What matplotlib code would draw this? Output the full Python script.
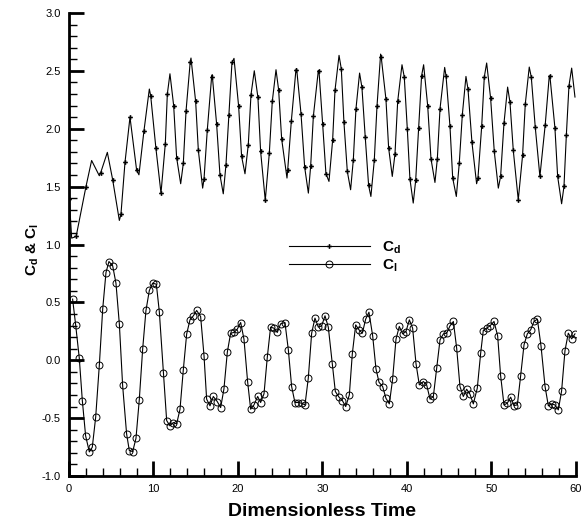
import matplotlib as mpl
mpl.use('Agg')
from matplotlib import pyplot as plt
import numpy as np

mpl.rcParams['font.family'] = ['Liberation Sans', 'DejaVu Sans']
mpl.rcParams['mathtext.fontset'] = 'custom'
mpl.rcParams['mathtext.rm'] = 'Liberation Sans'
mpl.rcParams['mathtext.bf'] = 'Liberation Sans:bold'

# Cd: points where the solver output is marked
cd_mark_t = [0.04, 0.85, 2.01, 3.75, 5.17, 6.15, 6.63, 7.22, 8.01, 8.87, 9.67, 10.29, 10.89,
             11.40, 11.64, 12.39, 12.74, 13.53, 13.85, 14.35, 14.99, 15.31, 15.98, 16.37,
             16.88, 17.47, 17.87, 18.58, 18.93, 19.29, 20.08, 20.43, 21.22, 21.54, 22.36,
             22.68, 23.23, 23.71, 24.06, 24.81, 25.17, 25.88, 26.31, 26.86, 27.46, 27.89,
             28.60, 28.92, 29.59, 30.02, 30.41, 31.20, 31.48, 32.23, 32.54, 32.94, 33.65,
             33.96, 34.67, 35.06, 35.46, 36.13, 36.45, 36.95, 37.51, 37.83, 38.58, 38.90,
             39.68, 40.04, 40.35, 41.03, 41.38, 41.73, 42.45, 42.84, 43.59, 43.91, 44.62,
             45.09, 45.41, 46.19, 46.55, 47.22, 47.69, 48.40, 48.84, 49.15, 49.90, 50.33,
             51.08, 51.48, 52.19, 52.58, 53.17, 53.68, 54.00, 54.71, 55.18, 55.73, 56.36,
             56.92, 57.51, 57.83, 58.58, 58.86, 59.17]
cd_mark_v = [1.39, 1.07, 1.50, 1.62, 1.56, 1.26, 1.71, 2.10, 1.64, 1.98, 2.285, 1.83, 1.444,
             1.87, 2.30, 2.20, 1.75, 1.70, 2.15, 2.58, 2.236, 1.813, 1.565, 1.99,
             2.447, 2.043, 1.60, 1.69, 2.12, 2.573, 2.193, 1.761, 1.862, 2.294, 2.271,
             1.804, 1.381, 1.79, 2.236, 2.337, 1.911, 1.64, 2.063, 2.51, 2.13, 1.669,
             1.675, 2.107, 2.496, 2.04, 1.611, 1.899, 2.331, 2.516, 2.055, 1.631, 1.732,
             2.17, 2.357, 1.928, 1.51, 1.726, 2.193, 2.62, 2.256, 1.833, 1.781, 2.236,
             2.447, 1.997, 1.565, 1.554, 2.006, 2.458, 2.199, 1.741, 1.738, 2.173, 2.458,
             2.02, 1.574, 1.703, 2.121, 2.343, 1.882, 1.574, 2.02, 2.447, 2.262, 1.804,
             1.588, 2.049, 2.228, 1.813, 1.386, 1.77, 2.213, 2.447, 2.014, 1.588, 2.035,
             2.452, 2.006, 1.588, 1.502, 1.945, 2.372]
# Cd: peaks, troughs and end points of the curve
cd_ext_t = [0.32, 2.68, 3.59, 4.54, 5.96, 8.28, 9.51, 11.95, 13.22, 14.44, 15.82, 16.95,
            18.26, 19.53, 20.83, 21.93, 24.50, 25.80, 26.94, 28.33, 29.51, 30.77, 31.96,
            33.33, 34.39, 35.73, 36.88, 38.26, 39.41, 40.74, 41.97, 43.31, 44.46, 45.84,
            46.98, 48.24, 49.43, 50.81, 51.91, 54.47, 56.84, 58.30, 59.49, 59.88]
cd_ext_v = [1.055, 1.726, 1.594, 1.796, 1.208, 1.602, 2.343, 2.475, 1.525, 2.611, 1.487, 2.467,
            1.438, 2.608, 1.611, 2.501, 2.51, 1.574, 2.519, 1.444, 2.504, 1.545, 2.634,
            1.473, 2.481, 1.415, 2.645, 1.588, 2.553, 1.358, 2.553, 1.536, 2.53, 1.415,
            2.452, 1.525, 2.568, 1.487, 2.36, 2.533, 2.458, 1.352, 2.524, 2.274]

cl_t = [0.43, 0.79, 1.22, 1.58, 1.97, 2.41, 2.76, 3.16, 3.59, 3.99, 4.38, 4.73, 5.17, 5.56,
        5.96, 6.35, 6.82, 7.14, 7.54, 7.93, 8.32, 8.72, 9.11, 9.51, 9.90, 10.34, 10.69,
        11.17, 11.56, 11.95, 12.35, 12.74, 13.14, 13.53, 13.93, 14.32, 14.72, 15.11,
        15.58, 15.98, 16.29, 16.69, 17.08, 17.55, 17.95, 18.34, 18.74, 19.13, 19.53,
        19.92, 20.32, 20.71, 21.14, 21.50, 21.89, 22.33, 22.68, 23.08, 23.47, 23.86,
        24.26, 24.65, 25.05, 25.56, 25.96, 26.35, 26.74, 27.14, 27.53, 27.93, 28.32,
        28.72, 29.11, 29.51, 29.90, 30.30, 30.69, 31.16, 31.52, 31.96, 32.35, 32.75,
        33.18, 33.53, 33.93, 34.32, 34.72, 35.11, 35.50, 35.94, 36.33, 36.69, 37.12,
        37.51, 37.91, 38.30, 38.70, 39.09, 39.49, 39.88, 40.28, 40.67, 41.07, 41.46,
        41.94, 42.33, 42.73, 43.12, 43.52, 43.91, 44.31, 44.70, 45.09, 45.49, 45.88,
        46.27, 46.67, 47.06, 47.45, 47.85, 48.32, 48.72, 49.03, 49.43, 49.82, 50.30,
        50.73, 51.08, 51.48, 51.87, 52.27, 52.66, 53.06, 53.45, 53.85, 54.24, 54.64,
        55.03, 55.43, 55.86, 56.34, 56.73, 57.12, 57.51, 57.91, 58.30, 58.70, 59.09,
        59.49, 59.88]
cl_v = [0.528, 0.306, 0.018, -0.348, -0.653, -0.792, -0.751, -0.492, -0.045, 0.441, 0.758,
        0.853, 0.816, 0.666, 0.315, -0.218, -0.636, -0.780, -0.789, -0.674, -0.342, 0.096,
        0.430, 0.603, 0.666, 0.657, 0.421, -0.106, -0.521, -0.567, -0.538, -0.550, -0.423,
        -0.083, 0.228, 0.349, 0.384, 0.430, 0.378, 0.041, -0.336, -0.394, -0.313, -0.357,
        -0.409, -0.247, 0.070, 0.234, 0.240, 0.269, 0.326, 0.182, -0.184, -0.423, -0.386,
        -0.313, -0.365, -0.290, 0.026, 0.286, 0.277, 0.240, 0.315, 0.326, 0.090, -0.227,
        -0.365, -0.365, -0.371, -0.386, -0.155, 0.234, 0.364, 0.286, 0.297, 0.384, 0.286,
        -0.031, -0.270, -0.319, -0.348, -0.400, -0.299, 0.055, 0.306, 0.263, 0.234, 0.355,
        0.415, 0.211, -0.074, -0.190, -0.227, -0.328, -0.377, -0.164, 0.182, 0.292, 0.228,
        0.248, 0.349, 0.277, -0.031, -0.213, -0.184, -0.213, -0.336, -0.313, -0.069, 0.176,
        0.228, 0.234, 0.297, 0.335, 0.104, -0.227, -0.313, -0.250, -0.293, -0.377, -0.241,
        0.061, 0.257, 0.277, 0.297, 0.335, 0.211, -0.132, -0.386, -0.371, -0.319, -0.391,
        -0.386, -0.135, 0.133, 0.228, 0.263, 0.335, 0.355, 0.124, -0.227, -0.394, -0.377,
        -0.386, -0.429, -0.264, 0.084, 0.234, 0.185, 0.228]

# curve through both sets of Cd points, in time order
cd = dict(zip(cd_mark_t, cd_mark_v))
cd.update(zip(cd_ext_t, cd_ext_v))
cd_t = sorted(cd)
cd_v = [cd[t] for t in cd_t]

fig = plt.figure(figsize=(5.86, 5.20), dpi=100)
ax = fig.add_axes([0.1177, 0.0846, 0.8652, 0.8904])

ax.plot(cd_t, cd_v, '-', color='black', lw=0.8)
ax.plot(cd_mark_t, cd_mark_v, 'P', color='black', ms=3.4, mew=0, ls='none')
ax.plot([], [], '-', color='black', lw=0.8, marker='P', ms=3.4, mew=0, label=r'$\mathbf{C_d}$')
ax.plot(cl_t, cl_v, '-', color='black', lw=0.8, marker='o', ms=5, mfc='none', mew=0.7,
        label=r'$\mathbf{C_l}$')

ax.set_xlim(0, 60)
ax.set_ylim(-1.0, 3.0)
ax.set_xticks(np.arange(0, 61, 10))
ax.set_xticks(np.arange(0, 61, 2), minor=True)
ax.set_yticks(np.arange(-1.0, 3.01, 0.5))
ax.set_yticks(np.arange(-1.0, 3.01, 0.1), minor=True)
ax.yaxis.set_major_formatter(mpl.ticker.FormatStrFormatter('%.1f'))
ax.tick_params(which='major', direction='in', length=11, width=2, labelsize=8, pad=6)
ax.tick_params(which='minor', direction='in', length=6, width=1)
ax.spines['top'].set_visible(False)
ax.spines['right'].set_visible(False)
ax.spines['left'].set_linewidth(2)
ax.spines['bottom'].set_linewidth(2)

ax.set_xlabel('Dimensionless Time', fontsize=14, fontweight='bold', labelpad=6)
ax.set_ylabel(r'$\mathbf{C_d}$ $\mathbf{&}$ $\mathbf{C_l}$', fontsize=11)
ax.yaxis.set_label_coords(-0.056, 0.49)

ax.legend(loc='center left', bbox_to_anchor=(0.434, 0.473), frameon=False, fontsize=11,
          handlelength=5.3, handletextpad=0.8, labelspacing=0.1, borderpad=0,
          borderaxespad=0)

plt.savefig('out.png', dpi=100)
